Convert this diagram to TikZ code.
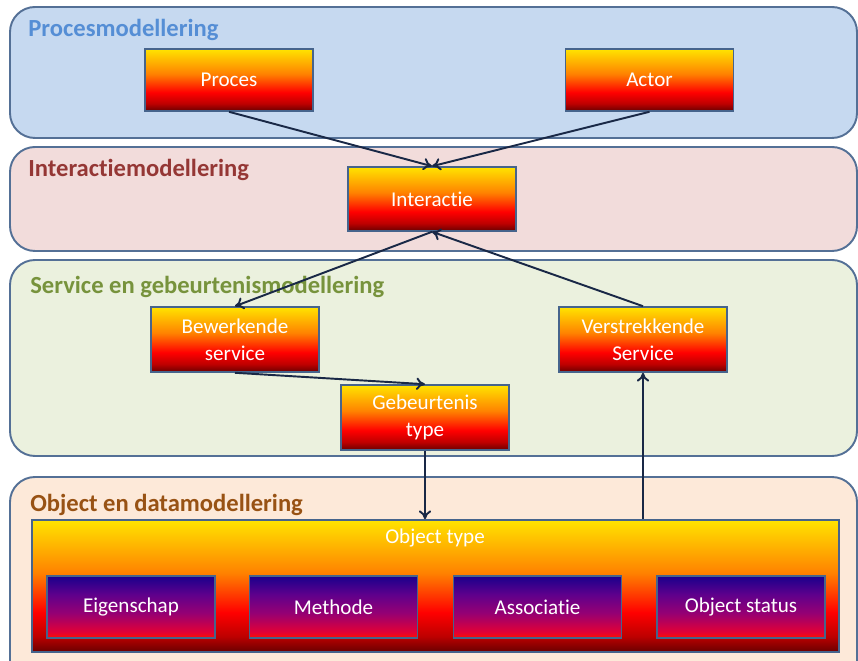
\documentclass[tikz,border=0pt]{standalone}
\usepackage{fontspec}
\setmainfont{Carlito}[Ligatures=NoCommon]
\usetikzlibrary{arrows.meta}
\definecolor{panelline}{RGB}{84,112,150}
\definecolor{bluefill}{RGB}{198,217,240}
\definecolor{redfill}{RGB}{242,220,219}
\definecolor{greenfill}{RGB}{235,241,222}
\definecolor{orangefill}{RGB}{253,233,217}
\definecolor{bluetitle}{RGB}{85,142,213}
\definecolor{redtitle}{RGB}{149,55,53}
\definecolor{greentitle}{RGB}{119,147,60}
\definecolor{browntitle}{RGB}{152,82,20}
\definecolor{arrowcol}{RGB}{25,40,70}
\definecolor{boxline}{RGB}{70,100,140}
\definecolor{fireA}{RGB}{105,0,0}
\definecolor{fireB}{RGB}{190,0,0}
\definecolor{fireC}{RGB}{255,0,0}
\definecolor{fireD}{RGB}{255,130,0}
\definecolor{fireE}{RGB}{255,228,0}
\definecolor{vioA}{RGB}{255,15,0}
\definecolor{vioB}{RGB}{225,0,55}
\definecolor{vioC}{RGB}{150,0,115}
\definecolor{vioD}{RGB}{95,0,140}
\definecolor{vioE}{RGB}{25,0,140}
\pgfdeclareverticalshading{fire}{100bp}{color(0bp)=(fireA); color(25bp)=(fireA); color(31bp)=(fireB); color(40bp)=(fireC); color(55bp)=(fireD); color(75bp)=(fireE); color(100bp)=(fireE)}
\pgfdeclareverticalshading{violet}{100bp}{color(0bp)=(vioA); color(25bp)=(vioA); color(30bp)=(vioB); color(45bp)=(vioC); color(60bp)=(vioD); color(75bp)=(vioE); color(100bp)=(vioE)}
\newcommand\pxu{0.02cm}
\tikzset{
  panel/.style={draw=panelline, line width=1.1pt, rounded corners=0.5cm},
  title/.style={anchor=base west, inner sep=0pt, font=\fontsize{14}{16}\selectfont\bfseries},
  firebox/.style={draw=boxline, line width=0.9pt, shading=fire, text=white, align=center,
    font=\fontsize{12}{15.5}\selectfont, inner sep=0pt, minimum width={168*\pxu}, minimum height={64*\pxu}},
  violetbox/.style={draw=boxline, line width=0.9pt, shading=violet, text=white, align=center,
    font=\fontsize{12}{15.5}\selectfont, inner sep=0pt, minimum width={168*\pxu}, minimum height={62*\pxu}},
  conn/.style={draw=arrowcol, line width=1.1pt, -{To[length=5pt,width=7pt]}}
}
\begin{document}
\begin{tikzpicture}[x=0.02cm, y=-0.02cm]
\clip (0,0) rectangle (858,661);
\fill[white] (0,0) rectangle (858,661);
% panels
\draw[panel, fill=bluefill] (10,7) rectangle (857,138);
\draw[panel, fill=redfill] (10,147) rectangle (857,251);
\draw[panel, fill=greenfill] (10,260) rectangle (857,456);
\draw[panel, fill=orangefill] (10,477) rectangle (857,690);
% titles
\node[title, text=bluetitle] (t1) at (28,37) {Procesmodellering};
\node[title, text=redtitle] (t2) at (28,177) {Interactiemodellering};
\node[title, text=greentitle] (t3) at (30,294) {Service en gebeurtenismodellering};
\node[title, text=browntitle] (t4) at (30,512) {Object en datamodellering};
% boxes
\node[firebox, minimum height={62*\pxu}] (proces) at (229,80) {Proces};
\node[firebox, minimum height={62*\pxu}] (actor) at (649.5,80) {Actor};
\node[firebox] (interactie) at (432,199) {Interactie};
\node[firebox, minimum height={65*\pxu}] (bewerkende) at (235,339.5) {Bewerkende\\service};
\node[firebox, minimum height={65*\pxu}] (gebeurtenis) at (425,417.5) {Gebeurtenis\\type};
\node[firebox, minimum height={65*\pxu}] (verstrekkende) at (643,339.5) {Verstrekkende\\Service};
\node[firebox, minimum width={807*\pxu}, minimum height={132*\pxu}] (objecttype) at (435.5,586) {};
\node[anchor=base, text=white, font=\fontsize{12}{15.5}\selectfont, inner sep=0pt] (otlabel) at (435,543) {Object type};
\node[violetbox] (eigenschap) at (131,607) {Eigenschap};
\node[violetbox] (methode) at (333.5,607) {Methode};
\node[violetbox] (associatie) at (537.5,607) {Associatie};
\node[violetbox] (status) at (741,607) {Object status};
% connectors
\draw[conn] (proces.south) -- (interactie.north);
\draw[conn] (actor.south) -- (interactie.north);
\draw[conn] (interactie.south) -- (bewerkende.north);
\draw[conn] (verstrekkende.north) -- (interactie.south);
\draw[conn] (bewerkende.south) -- (gebeurtenis.north);
\draw[conn] (gebeurtenis.south) -- (gebeurtenis.south |- objecttype.north);
\draw[conn] (verstrekkende.south |- objecttype.north) -- (verstrekkende.south);
\end{tikzpicture}
\end{document}
